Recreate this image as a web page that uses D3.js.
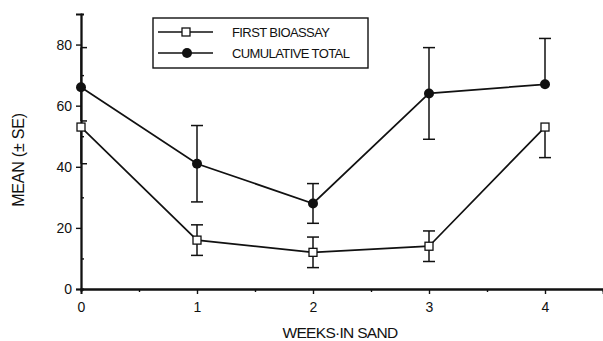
<!DOCTYPE html>
<html>
<head>
<meta charset="utf-8">
<script src="https://cdn.jsdelivr.net/npm/d3@7"></script>
<style>
  body { margin: 0; background: #fff; }
  text { font-family: "Liberation Sans", Arial, sans-serif; fill: #111; }
</style>
</head>
<body>
<svg width="603" height="341"></svg>
<script>
let weeks = [0, 1, 2, 3, 4];
let firstMean = [53, 16, 12, 14, 53];
let firstUp = [0, 5, 5, 5, 0];
let firstDown = [12, 5, 5, 5, 10];
let cumMean = [66, 41, 28, 64, 67];
let cumUp = [13, 12.5, 6.5, 15, 15];
let cumDown = [11, 12.5, 6.5, 15, 0];
let yTicks = [0, 20, 40, 60, 80];
let seriesNames = ['FIRST BIOASSAY', 'CUMULATIVE TOTAL'];

let svg = d3.select('svg');
let x = d3.scaleLinear().domain([0, 4.5]).range([81, 603]);
let y = d3.scaleLinear().domain([0, 90]).range([289, 14]);

// axes
let xAxis = svg.append('g').attr('transform', 'translate(0,289)');
xAxis.call(d3.axisBottom(x).tickValues(weeks).tickSize(5).tickFormat(d3.format('d')));
xAxis.append('g').call(d3.axisBottom(x).tickValues([0.5, 1.5, 2.5, 3.5]).tickSize(3).tickFormat(''));
let yAxis = svg.append('g').attr('transform', 'translate(81,0)');
yAxis.call(d3.axisLeft(y).tickValues(yTicks).tickSize(5));
yAxis.append('g').call(d3.axisRight(y).tickValues([10, 30, 50, 70]).tickSize(3).tickFormat(''));
svg.selectAll('.domain').attr('stroke', '#111').attr('stroke-width', 1.8);
svg.selectAll('.tick line').attr('stroke', '#111').attr('stroke-width', 1.4);
svg.selectAll('.tick text').attr('font-size', 14).attr('fill', '#111')
  .attr('font-family', '"Liberation Sans", Arial, sans-serif');
yAxis.selectAll('.tick text').attr('x', -9);
xAxis.selectAll('.tick text').attr('y', 13);

// axis titles
svg.append('text').attr('x', 340).attr('y', 338).attr('text-anchor', 'middle')
  .attr('font-size', 15.5).attr('letter-spacing', -0.7).text('WEEKS·IN SAND');
svg.append('text').attr('transform', 'translate(24,160) rotate(-90)').attr('text-anchor', 'middle')
  .attr('font-size', 16).attr('letter-spacing', -0.2).text('MEAN (± SE)');

let line = d3.line().x((d, i) => x(weeks[i])).y(d => y(d));

function drawSeries(means, up, down) {
  let g = svg.append('g');
  g.append('path').datum(means).attr('d', line)
    .attr('fill', 'none').attr('stroke', '#111').attr('stroke-width', 1.7);
  means.forEach((d, i) => {
    let cx = x(weeks[i]);
    g.append('line')
      .attr('x1', cx).attr('x2', cx)
      .attr('y1', y(d + up[i])).attr('y2', y(d - down[i]))
      .attr('stroke', '#111').attr('stroke-width', 1.5);
    [[up[i], 1], [down[i], -1]].forEach(([e, s]) => {
      if (e <= 0) return;
      let cy = y(d + s * e);
      g.append('line')
        .attr('x1', Math.max(cx - 6, 82)).attr('x2', cx + 6)
        .attr('y1', cy).attr('y2', cy)
        .attr('stroke', '#111').attr('stroke-width', 1.5);
    });
  });
  return g;
}

let gCum = drawSeries(cumMean, cumUp, cumDown);
gCum.selectAll('circle').data(cumMean).enter().append('circle')
  .attr('cx', (d, i) => x(weeks[i])).attr('cy', d => y(d)).attr('r', 5).attr('fill', '#111');

let gFirst = drawSeries(firstMean, firstUp, firstDown);
gFirst.selectAll('rect').data(firstMean).enter().append('rect')
  .attr('x', (d, i) => x(weeks[i]) - 4).attr('y', d => y(d) - 4)
  .attr('width', 8).attr('height', 8)
  .attr('fill', '#fff').attr('stroke', '#111').attr('stroke-width', 1.3);

// legend
let lg = svg.append('g');
lg.append('rect').attr('x', 153).attr('y', 18).attr('width', 215).attr('height', 50)
  .attr('fill', '#fff').attr('stroke', '#111').attr('stroke-width', 1.4);
seriesNames.forEach((name, i) => {
  let yy = 32 + i * 21;
  lg.append('line').attr('x1', 158).attr('x2', 213).attr('y1', yy).attr('y2', yy)
    .attr('stroke', '#111').attr('stroke-width', 1.4);
  if (i === 0) {
    lg.append('rect').attr('x', 182).attr('y', yy - 4).attr('width', 8).attr('height', 8)
      .attr('fill', '#fff').attr('stroke', '#111').attr('stroke-width', 1.3);
  } else {
    lg.append('circle').attr('cx', 187).attr('cy', yy).attr('r', 5).attr('fill', '#111');
  }
  lg.append('text').attr('x', 232).attr('y', yy + 5).attr('font-size', 13)
    .attr('letter-spacing', -0.6).text(name);
});
</script>
</body>
</html>
